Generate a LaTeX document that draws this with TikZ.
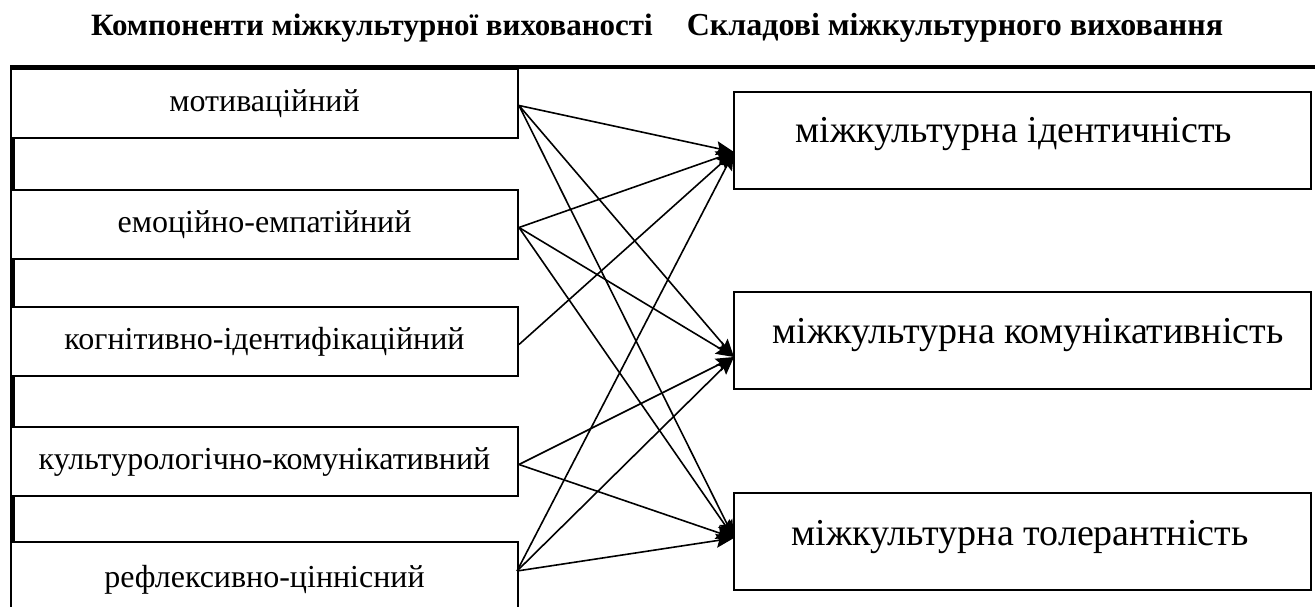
\documentclass[tikz,border=0pt]{standalone}
\usepackage{fontspec}
\setmainfont{Liberation Serif}
\usetikzlibrary{arrows.meta}
\begin{document}
\begin{tikzpicture}[x=1pt,y=-1pt,
  lbox/.style={draw, line width=2pt, minimum width=507pt, minimum height=69pt, inner sep=0pt, anchor=north west, font=\fontsize{32}{36}\selectfont},
  rbox/.style={draw, line width=2pt, minimum width=577pt, minimum height=97pt, inner sep=0pt, anchor=north west},
  rtext/.style={font=\fontsize{38}{43}\selectfont, inner sep=0pt},
  head/.style={font=\fontsize{31}{36}\selectfont\bfseries, inner sep=0pt, anchor=base},
  bar/.style={fill=black, draw=none},
  conn/.style={line width=1.6pt, -{Stealth[length=18pt,width=14pt,inset=3pt]}}]
\useasboundingbox (0,0) rectangle (1315,607);
\clip (0,0) rectangle (1315,607);
% headers
\node[head] (h1) at (372,36) {Компоненти міжкультурної вихованості};
\node[head, font=\fontsize{32}{36}\selectfont\bfseries] (h2) at (955,36) {Складові міжкультурного виховання};
% thick rule
\draw[line width=4pt] (10,67) -- (1315,67);
% gap bars
\fill[bar] (10,137) rectangle (15,189);
\fill[bar] (10,258) rectangle (15,306);
\fill[bar] (10,375) rectangle (15,426);
\fill[bar] (10,495) rectangle (15,541);
% left boxes
\node[lbox] (l1) at (10,68) {мотиваційний};
\node[lbox] (l2) at (10,189) {емоційно-емпатійний};
\node[lbox] (l3) at (10,306) {когнітивно-ідентифікаційний};
\node[lbox] (l4) at (10,426) {культурологічно-комунікативний};
\node[lbox, minimum height=72pt, text depth=4pt] (l5) at (10,541) {рефлексивно-ціннісний};
% right boxes
\node[rbox] (A) at (733,91) {};
\node[rbox] (B) at (733,291) {};
\node[rbox] (C) at (733,492) {};
\node[rtext] (At) at (1014,134) {міжкультурна ідентичність};
\node[rtext] (Bt) at (1028,335) {міжкультурна комунікативність};
\node[rtext] (Ct) at (1020,537) {міжкультурна толерантність};
% connector ends
\coordinate (s1) at ([yshift=-2pt]l1.east);
\coordinate (s2) at ([yshift=-3pt]l2.east);
\coordinate (s3) at ([yshift=-3pt]l3.east);
\coordinate (s4) at ([yshift=-3pt]l4.east);
\coordinate (s5) at (517,571);
\coordinate (ta) at (734,152);
\coordinate (tb) at (734,357);
\coordinate (tc) at (734,538);
% connectors
\draw[conn] (s1) -- (ta);
\draw[conn] (s1) -- (tb);
\draw[conn] (s1) -- (tc);
\draw[conn] (s2) -- (ta);
\draw[conn] (s2) -- (tb);
\draw[conn] (s2) -- (tc);
\draw[conn] (s3) -- (ta);
\draw[conn] (s4) -- (tb);
\draw[conn] (s4) -- (tc);
\draw[conn] (s5) -- (ta);
\draw[conn] (s5) -- (tb);
\draw[conn] (s5) -- (tc);
\end{tikzpicture}
\end{document}
